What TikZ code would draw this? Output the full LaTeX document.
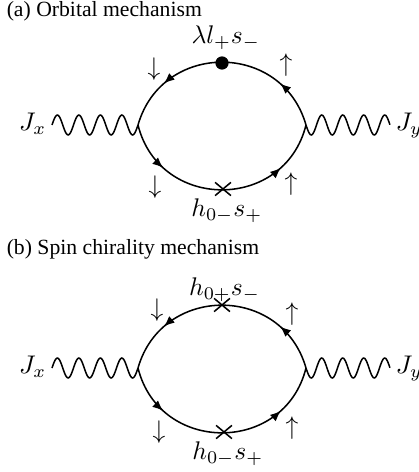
\documentclass[tikz,border=0pt]{standalone}
\usepackage{fontspec}
\newfontfamily\capfont{Liberation Serif}
\usetikzlibrary{arrows.meta,positioning,calc,decorations.markings,shapes.misc}

\begin{document}
\begin{tikzpicture}[x=0.392pt,y=0.392pt,line width=0.6pt,
  fermion/.style={postaction={decorate},decoration={markings,
    mark=at position 0.22 with {\arrow{Latex[length=4.2pt,width=3.4pt]}},
    mark=at position 0.78 with {\arrow{Latex[length=4.2pt,width=3.4pt]}}}},
  photon/.style={to path={let \p1=(\tikztostart),\p2=(\tikztotarget) in
    plot[variable=\t,domain=0:1,samples=97,smooth] ({\x1+(\x2-\x1)*\t},{\y1+#1*3.9pt*sin(1440*\t)})}},
  photon/.default=1,
  vx/.style={draw,cross out,minimum width=5.6pt,minimum height=4.6pt,inner sep=0pt,line width=0.6pt},
  dot/.style={circle,fill,minimum size=5.2pt,inner sep=0pt},
  ext/.style={inner sep=2pt},
  spin/.style={inner sep=0pt},
  lbl/.style={inner sep=0.5pt},
  heading/.style={anchor=base west,inner sep=0pt,font=\capfont\fontsize{8.5}{10}\selectfont}]
  \useasboundingbox (0,0) rectangle (419,-472);
  % (a) orbital
  \node[heading] (ta) at (6,-17) {(a) Orbital mechanism};
  \coordinate (La) at (138,-125);
  \coordinate (Ra) at (306,-125);
  \node[ext,anchor=mid east] (jxa) at (52,-125) {$J_x$};
  \node[ext,anchor=mid west] (jya) at (390,-125) {$J_y$};
  \draw (jxa.mid east) to[photon] (La);
  \draw (Ra) to[photon=-1] (jya.mid west);
  \draw[fermion] (Ra) to[out=106,in=74,looseness=1.33] (La);
  \draw[fermion] (La) to[out=-76,in=-104,looseness=1.36] (Ra);
  \node[dot] (soa) at (222,-63) {};
  \node[vx] (zma) at (223,-189) {};
  \node[lbl,above=1.5pt of soa,xshift=1.5pt] {$\lambda l_+s_-$};
  \node[lbl,below=0.5pt of zma,xshift=1.5pt] {$h_{0-}s_+$};
  \node[spin] (sa1) at (154,-69) {$\downarrow$};
  \node[spin] (sa2) at (286,-65) {$\uparrow$};
  \node[spin] (sa3) at (155,-187) {$\downarrow$};
  \node[spin] (sa4) at (291,-184) {$\uparrow$};
  % (b) spin chirality
  \node[heading] (tb) at (6,-255) {(b) Spin chirality mechanism};
  \coordinate (Lb) at (138,-368);
  \coordinate (Rb) at (306,-368);
  \node[ext,anchor=mid east] (jxb) at (52,-368) {$J_x$};
  \node[ext,anchor=mid west] (jyb) at (390,-368) {$J_y$};
  \draw (jxb.mid east) to[photon] (Lb);
  \draw (Rb) to[photon=-1] (jyb.mid west);
  \draw[fermion] (Rb) to[out=106,in=74,looseness=1.33] (Lb);
  \draw[fermion] (Lb) to[out=-76,in=-104,looseness=1.36] (Rb);
  \node[vx] (zpb) at (222,-305) {};
  \node[vx] (zmb) at (224,-432) {};
  \node[lbl,above=-2pt of zpb,xshift=1pt] {$h_{0+}s_-$};
  \node[lbl,below=0.5pt of zmb,xshift=1.5pt] {$h_{0-}s_+$};
  \node[spin] (sb1) at (157,-310) {$\downarrow$};
  \node[spin] (sb2) at (292,-314) {$\uparrow$};
  \node[spin] (sb3) at (159,-432) {$\downarrow$};
  \node[spin] (sb4) at (292,-428) {$\uparrow$};
\end{tikzpicture}
\end{document}
